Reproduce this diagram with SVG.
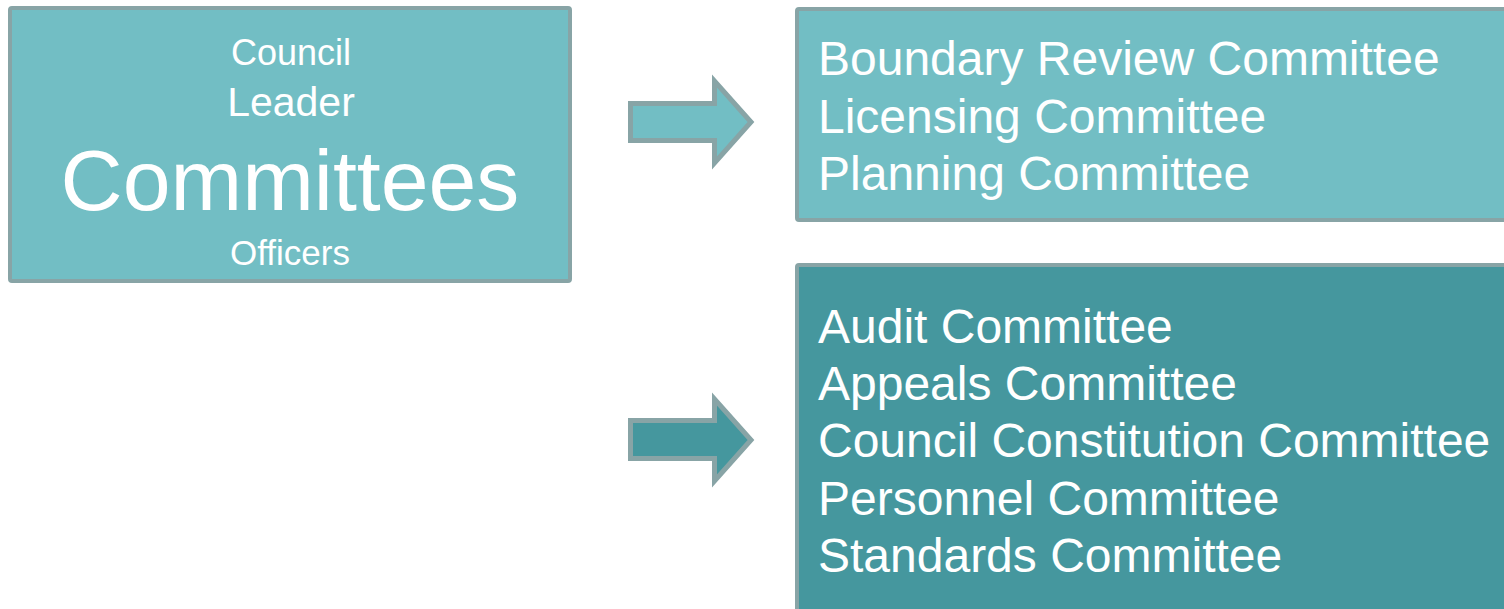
<svg xmlns="http://www.w3.org/2000/svg" width="1504" height="609" viewBox="0 0 1504 609">
<style>
.box{stroke:#88a4a6;stroke-width:4}
.light{fill:#72bec4}
.dark{fill:#45979e}
.arrow{stroke:#88a4a6;stroke-width:5;stroke-linejoin:miter}
text{font-family:"Liberation Sans",Arial,sans-serif;fill:#ffffff}
.c{text-anchor:middle}
.item{font-size:48px}
</style>
<rect width="1504" height="609" fill="#ffffff"/>
<g id="node-committees">
<rect class="box light" x="10" y="8" width="560" height="273" rx="2"/>
<text class="c" x="291" y="65" font-size="36">Council</text>
<text class="c" x="291" y="116" font-size="41">Leader</text>
<text class="c" x="290" y="210" font-size="86">Committees</text>
<text class="c" x="290" y="265" font-size="35">Officers</text>
</g>
<g id="node-regulatory">
<rect class="box light" x="797" y="9" width="740" height="211" rx="2"/>
<text class="item" x="818" y="75">Boundary Review Committee</text>
<text class="item" x="818" y="133">Licensing Committee</text>
<text class="item" x="818" y="190">Planning Committee</text>
</g>
<g id="node-other">
<rect class="box dark" x="797" y="265" width="740" height="380" rx="2"/>
<text class="item" x="818" y="343">Audit Committee</text>
<text class="item" x="818" y="400">Appeals Committee</text>
<text class="item" x="818" y="457">Council Constitution Committee</text>
<text class="item" x="818" y="515">Personnel Committee</text>
<text class="item" x="818" y="572">Standards Committee</text>
</g>
<g id="connectors">
<polygon class="arrow light" points="630.5,103.5 714.5,103.5 714.5,81 751,122 714.5,163 714.5,140.5 630.5,140.5"/>
<polygon class="arrow dark" points="630.5,420.5 714.5,420.5 714.5,399 751,440 714.5,481 714.5,458.5 630.5,458.5"/>
</g>
</svg>
